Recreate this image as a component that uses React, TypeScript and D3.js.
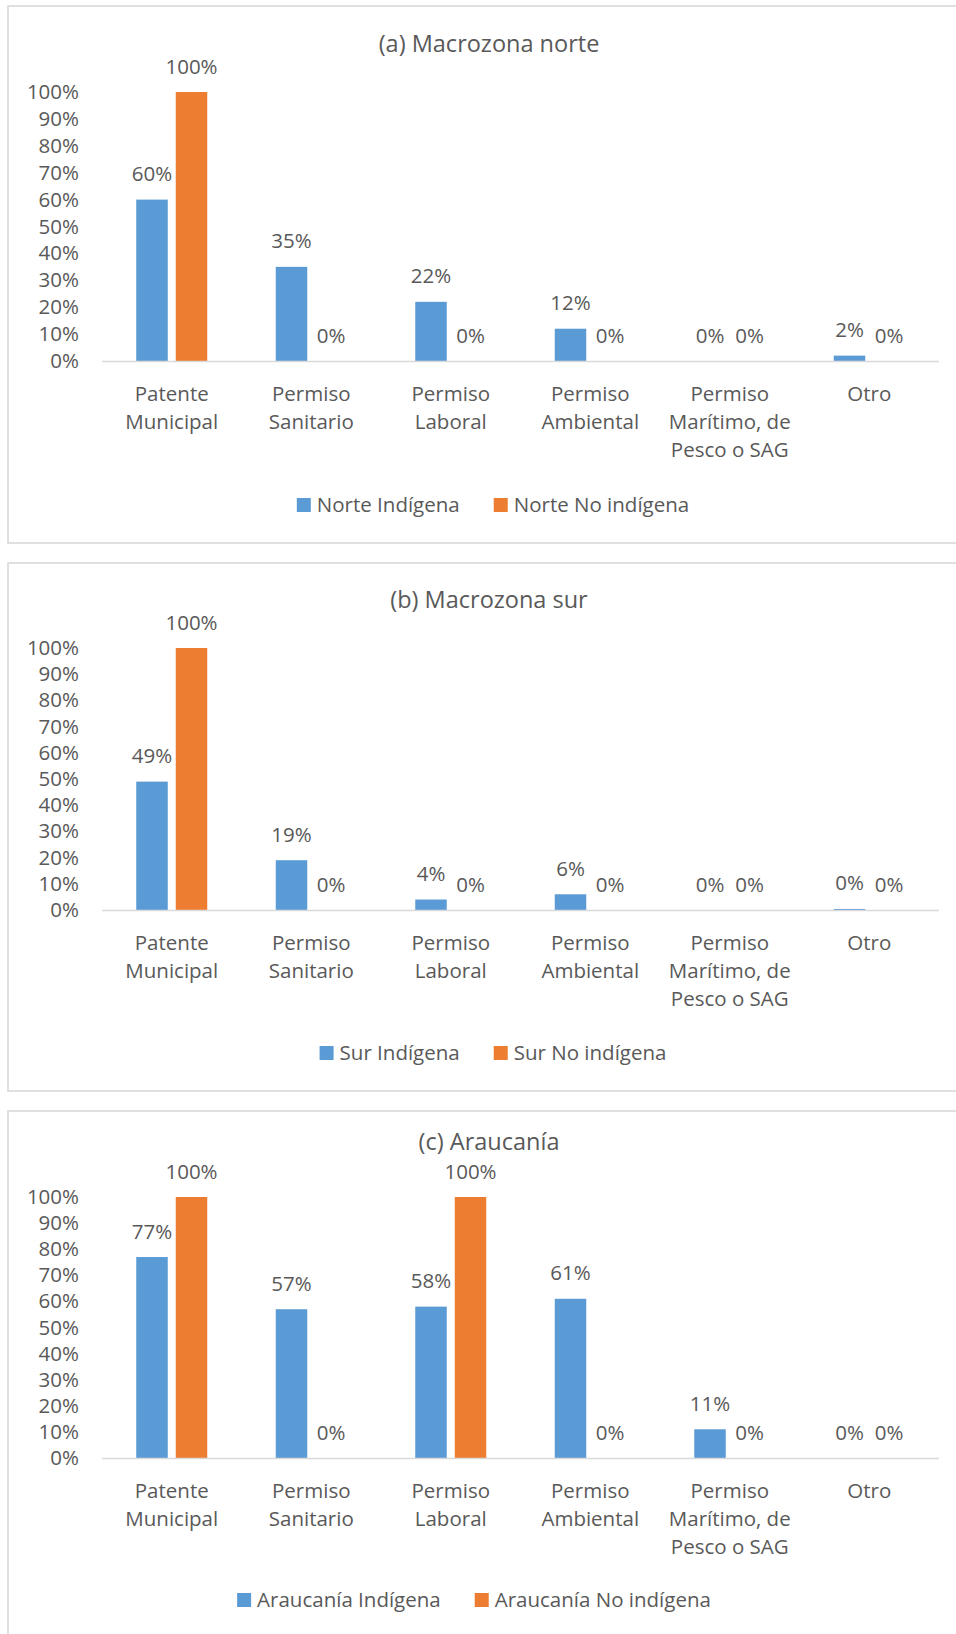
import * as d3 from "d3";
import { useEffect, useRef } from "react";

// categories (line breaks as in the original chart)
const categories = [
    ["Patente", "Municipal"],
    ["Permiso", "Sanitario"],
    ["Permiso", "Laboral"],
    ["Permiso", "Ambiental"],
    ["Permiso", "Marítimo, de", "Pesco o SAG"],
    ["Otro"],
];

const yTicks = [0, 10, 20, 30, 40, 50, 60, 70, 80, 90, 100];

// (a) Macrozona norte
const norteIndigena = [60, 35, 22, 12, 0, 2];
const norteNoIndigena = [100, 0, 0, 0, 0, 0];
// (b) Macrozona sur
const surIndigena = [49, 19, 4, 6, 0, 0.4];
const surNoIndigena = [100, 0, 0, 0, 0, 0];
// (c) Araucanía
const araucaniaIndigena = [77, 57, 58, 61, 11, 0];
const araucaniaNoIndigena = [100, 0, 100, 0, 0, 0];

const titles = ["(a) Macrozona norte", "(b) Macrozona sur", "(c) Araucanía"];
const legendNames = [
    ["Norte Indígena", "Norte No indígena"],
    ["Sur Indígena", "Sur No indígena"],
    ["Araucanía Indígena", "Araucanía No indígena"],
];
const seriesByPanel = [
    [norteIndigena, norteNoIndigena],
    [surIndigena, surNoIndigena],
    [araucaniaIndigena, araucaniaNoIndigena],
];

const colors = ["#5B9BD5", "#ED7D31"];
const textColor = "#595959";
const font = "'Open Sans', 'Noto Sans', sans-serif";

// layout of each panel box
const layout = [
    { top: 6, bottom: 543, titleY: 52, plotTop: 92, baseline: 361, legendY: 512, legendCx: 493 },
    { top: 563, bottom: 1091, titleY: 608, plotTop: 648, baseline: 910, legendY: 1060, legendCx: 493 },
    { top: 1111, bottom: 1660, titleY: 1150, plotTop: 1197, baseline: 1458, legendY: 1607, legendCx: 474 },
];

const W = 956;
const H = 1634;
const plotLeft = 102;
const plotRight = 939;

const App = () => {
    const chartRef = useRef(null);

    useEffect(() => {
        const svg = d3.select(chartRef.current);
        svg.selectAll("*").remove();

        const scaleX = d3.scaleBand()
            .domain(categories.map((c, i) => String(i)))
            .range([plotLeft, plotRight]);
        const barW = 31.5;
        const barGap = 8;

        layout.forEach((lay, p) => {
            const g = svg.append("g");
            const series = seriesByPanel[p];

            g.append("rect")
                .attr("x", 8)
                .attr("y", lay.top)
                .attr("width", 980)
                .attr("height", lay.bottom - lay.top)
                .style("fill", "white")
                .style("stroke", "#d9d9d9")
                .style("stroke-width", 1.6);

            g.append("text")
                .attr("x", 489)
                .attr("y", lay.titleY)
                .attr("text-anchor", "middle")
                .style("font-family", font)
                .style("font-size", "23.5px")
                .style("fill", textColor)
                .text(titles[p]);

            const scaleY = d3.scaleLinear()
                .domain([0, 100])
                .range([lay.baseline, lay.plotTop]);

            const yAxis = d3.axisLeft(scaleY)
                .tickValues(yTicks)
                .tickSize(0)
                .tickPadding(23)
                .tickFormat(d => `${d}%`);
            const ya = g.append("g")
                .attr("transform", `translate(${plotLeft}, 0)`)
                .call(yAxis);
            ya.select(".domain").remove();
            ya.selectAll("text")
                .style("font-family", font)
                .style("font-size", "20.5px")
                .style("fill", textColor);

            // bars
            series.forEach((vals, s) => {
                const offset = s === 0 ? -barGap / 2 - barW : barGap / 2;
                g.selectAll(`.bar-${s}`)
                    .data(vals)
                    .enter()
                    .append("rect")
                    .attr("x", (d, i) => scaleX(String(i)) + scaleX.bandwidth() / 2 + offset)
                    .attr("y", d => scaleY(d))
                    .attr("width", barW)
                    .attr("height", d => lay.baseline - scaleY(d))
                    .style("fill", colors[s]);

                g.selectAll(`.lbl-${s}`)
                    .data(vals)
                    .enter()
                    .append("text")
                    .attr("x", (d, i) => scaleX(String(i)) + scaleX.bandwidth() / 2 + offset + barW / 2)
                    .attr("y", d => scaleY(d) - 18.5)
                    .attr("text-anchor", "middle")
                    .style("font-family", font)
                    .style("font-size", "20.5px")
                    .style("fill", textColor)
                    .text(d => `${Math.round(d)}%`);
            });

            // x axis line
            g.append("line")
                .attr("x1", plotLeft)
                .attr("x2", plotRight)
                .attr("y1", lay.baseline + 0.5)
                .attr("y2", lay.baseline + 0.5)
                .style("stroke", "#d9d9d9")
                .style("stroke-width", 1.6);

            // category labels
            categories.forEach((lines, i) => {
                const t = g.append("text")
                    .attr("text-anchor", "middle")
                    .style("font-family", font)
                    .style("font-size", "20.5px")
                    .style("fill", textColor);
                lines.forEach((ln, k) => {
                    t.append("tspan")
                        .attr("x", scaleX(String(i)) + scaleX.bandwidth() / 2)
                        .attr("y", lay.baseline + 40 + k * 28)
                        .text(ln);
                });
            });

            // legend
            const lg = g.append("g");
            let cx = 0;
            legendNames[p].forEach((name, s) => {
                lg.append("rect")
                    .attr("x", cx)
                    .attr("y", lay.legendY - 14)
                    .attr("width", 14)
                    .attr("height", 14)
                    .style("fill", colors[s]);
                const t = lg.append("text")
                    .attr("x", cx + 20)
                    .attr("y", lay.legendY)
                    .style("font-family", font)
                    .style("font-size", "20.5px")
                    .style("fill", textColor)
                    .text(name);
                cx += 20 + t.node().getComputedTextLength() + (s === 0 ? 34 : 0);
            });
            lg.attr("transform", `translate(${lay.legendCx - cx / 2}, 0)`);
        });
    }, []);

    return (
        <svg
            ref={chartRef}
            width={W}
            height={H}
            style={{ position: "absolute", left: 0, top: 0, background: "white" }}
        ></svg>
    );
};

export default App;
